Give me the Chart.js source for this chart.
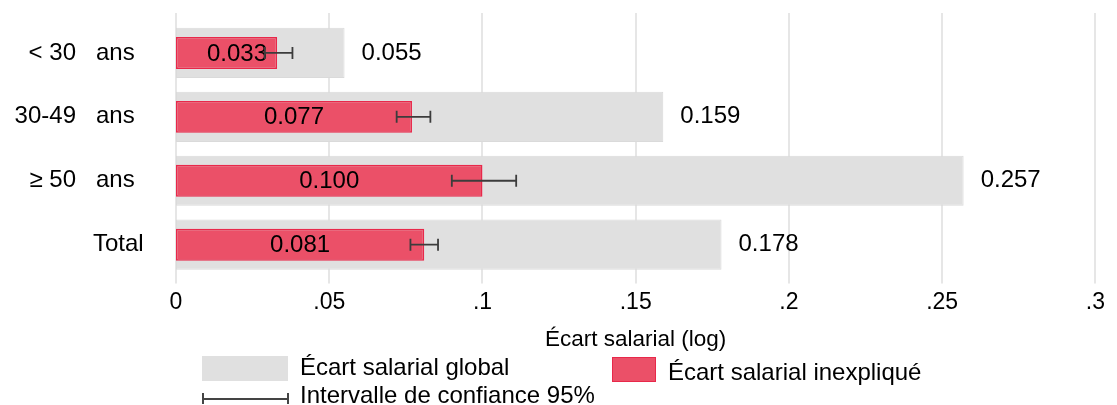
<!DOCTYPE html>
<html>
<head>
<meta charset="utf-8">
<script src="https://cdn.jsdelivr.net/npm/chart.js@4"></script>
<style>
  html, body { margin: 0; padding: 0; background: #fff; }
  #wrap { position: relative; width: 1117px; height: 405px; font-family: "Liberation Sans", Arial, sans-serif; color: #000; }
  canvas { position: absolute; left: 0; top: 0; }
  .lg { position: absolute; font-size: 24px; line-height: 26px; white-space: nowrap; }
  .sw { position: absolute; }
</style>
</head>
<body>
<div id="wrap">
  <canvas id="gapChart" width="1117" height="405"></canvas>
  <!-- legend -->
  <div class="sw" style="left:202px;top:356px;width:86px;height:25px;background:#e0e0e0;"></div>
  <div class="lg" style="left:300px;top:354px;">Écart salarial global</div>
  <div class="sw" style="left:202px;top:398px;width:86px;height:1.5px;background:#444;"></div>
  <div class="sw" style="left:202px;top:393px;width:1.5px;height:11px;background:#444;"></div>
  <div class="sw" style="left:287px;top:393px;width:1.5px;height:11px;background:#444;"></div>
  <div class="lg" style="left:300px;top:382px;">Intervalle de confiance 95%</div>
  <div class="sw" style="left:612px;top:357px;width:44px;height:25px;background:#eb5068;border:1px solid #e8284a;box-sizing:border-box;"></div>
  <div class="lg" style="left:668px;top:359px;">Écart salarial inexpliqué</div>
</div>
<script>
// data
const categories = ['< 30 ans', '30-49 ans', '≥ 50 ans', 'Total'];
const globalGap = [0.055, 0.159, 0.257, 0.178];
const unexplainedGap = [0.033, 0.077, 0.100, 0.081];
const ciLow = [0.029, 0.072, 0.090, 0.0765];
const ciHigh = [0.038, 0.083, 0.111, 0.0855];
const xTicks = [0, 0.05, 0.1, 0.15, 0.2, 0.25, 0.3];

const FONT = '"Liberation Sans", Arial, sans-serif';

// vertical gridlines, a bit taller than the bar area
const gridPlugin = {
  id: 'grid',
  beforeDatasetsDraw(chart) {
    const ctx = chart.ctx;
    const xs = chart.scales.x;
    ctx.save();
    ctx.strokeStyle = '#e6e6e6';
    ctx.lineWidth = 2;
    xTicks.forEach(v => {
      const px = Math.round(xs.getPixelForValue(v));
      ctx.beginPath();
      ctx.moveTo(px, chart.chartArea.top - 8);
      ctx.lineTo(px, chart.chartArea.bottom + 7);
      ctx.stroke();
    });
    ctx.restore();
  }
};

// category labels on the left, "ans" in a second column
const labelPlugin = {
  id: 'catLabels',
  afterDraw(chart) {
    const ctx = chart.ctx;
    const ys = chart.scales.y;
    ctx.save();
    ctx.font = '24px ' + FONT;
    ctx.fillStyle = '#000';
    ctx.textBaseline = 'middle';
    categories.forEach((c, i) => {
      const py = ys.getPixelForValue(i);
      const cut = c.lastIndexOf(' ans');
      if (cut > 0) {
        ctx.textAlign = 'right';
        ctx.fillText(c.slice(0, cut), 76, py);
        ctx.textAlign = 'left';
        ctx.fillText('ans', 96, py);
      } else {
        ctx.textAlign = 'left';
        ctx.fillText(c, 93, py);
      }
    });
    ctx.restore();
  }
};

// error bars and value labels
const extrasPlugin = {
  id: 'extras',
  afterDatasetsDraw(chart) {
    const ctx = chart.ctx;
    const xs = chart.scales.x;
    const ys = chart.scales.y;
    ctx.save();
    ctx.font = '24px ' + FONT;
    ctx.fillStyle = '#000';
    ctx.textBaseline = 'middle';

    // global gap values, right of the grey bars
    const grey = chart.getDatasetMeta(1).data;
    grey.forEach((bar, i) => {
      ctx.textAlign = 'left';
      ctx.fillText(globalGap[i].toFixed(3), bar.x + 17, bar.y);
    });

    // unexplained values, inside the red bars
    const red = chart.getDatasetMeta(0).data;
    red.forEach((bar, i) => {
      const mid = Math.max((bar.x + bar.base) / 2, bar.base + 61);
      ctx.textAlign = 'center';
      ctx.fillText(unexplainedGap[i].toFixed(3), mid, bar.y + 1);
    });

    // confidence intervals
    ctx.strokeStyle = '#3c3c3c';
    ctx.lineWidth = 1.8;
    categories.forEach((c, i) => {
      const py = ys.getPixelForValue(i);
      const x1 = xs.getPixelForValue(ciLow[i]);
      const x2 = xs.getPixelForValue(ciHigh[i]);
      ctx.beginPath();
      ctx.moveTo(x1, py); ctx.lineTo(x2, py);
      ctx.moveTo(x1, py - 6); ctx.lineTo(x1, py + 6);
      ctx.moveTo(x2, py - 6); ctx.lineTo(x2, py + 6);
      ctx.stroke();
    });
    ctx.restore();
  }
};

new Chart(document.getElementById('gapChart'), {
  type: 'bar',
  data: {
    labels: categories,
    datasets: [
      {
        label: 'Écart salarial inexpliqué',
        data: unexplainedGap,
        backgroundColor: '#eb5068',
        borderColor: '#e8284a',
        borderWidth: 1.5,
        borderSkipped: false,
        barPercentage: 0.5,
        categoryPercentage: 1,
        grouped: false,
        order: 1
      },
      {
        label: 'Écart salarial global',
        data: globalGap,
        backgroundColor: '#e0e0e0',
        borderColor: '#dadada',
        borderWidth: 1,
        borderSkipped: false,
        barPercentage: 0.785,
        categoryPercentage: 1,
        grouped: false,
        order: 2
      }
    ]
  },
  options: {
    indexAxis: 'y',
    responsive: false,
    animation: false,
    devicePixelRatio: 1,
    layout: { padding: { left: 176, right: 14, top: 21, bottom: 54.3 } },
    plugins: {
      legend: { display: false },
      tooltip: { enabled: false }
    },
    scales: {
      x: {
        min: 0,
        max: 0.3,
        afterBuildTicks(scale) { scale.ticks = xTicks.map(v => ({ value: v })); },
        ticks: {
          color: '#000',
          font: { family: FONT, size: 23 },
          padding: 12,
          maxRotation: 0,
          callback: v => (v === 0 ? '0' : String(+v.toFixed(2)).replace(/^0/, ''))
        },
        grid: { display: false, drawTicks: false },
        border: { display: false },
        title: {
          display: true,
          text: 'Écart salarial (log)',
          color: '#000',
          font: { family: FONT, size: 22.5, lineHeight: 1 },
          padding: { top: 0, bottom: 0 }
        }
      },
      y: {
        type: 'category',
        display: false,
        offset: true,
        grid: { display: false }
      }
    }
  },
  plugins: [gridPlugin, labelPlugin, extrasPlugin]
});
</script>
</body>
</html>
